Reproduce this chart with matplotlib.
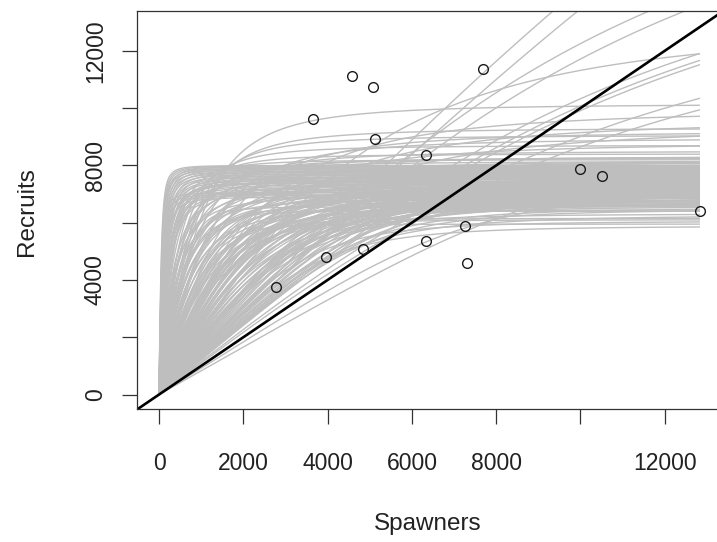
import numpy as np
import matplotlib
matplotlib.use("Agg")
import matplotlib.pyplot as plt

# observed stock-recruit points
spawners = [2776, 3646, 4572, 5085, 5125, 3962, 4847, 6335, 6335, 7260, 7300, 7695, 9988, 10500, 12835]
recruits = [3760, 9630, 11120, 10750, 8930, 4810, 5070, 8350, 5350, 5885, 4580, 11350, 7875, 7640, 6410]

# posterior stock-recruit curves, grouped: initial slope and capacity for each draw
steep_slope = [120, 105, 95, 88, 82, 76, 71, 66, 62, 58, 55, 52, 49, 46, 44, 42, 40, 38, 36, 34,
               32, 30, 29, 28, 27, 26, 25, 24, 23, 22, 100, 80, 64, 50, 35]
steep_cap = [8000, 7980, 7950, 7900, 7850, 7960, 7800, 7920, 7750, 7880, 7700, 7820, 7650, 7600, 7780, 7550,
             7500, 7720, 7450, 7400, 7680, 7350, 7300, 7620, 7250, 7200, 7580, 7150, 7100, 7520, 7050, 7000,
             6950, 6900, 7420]

mid_slope = [19, 18, 17, 16.2, 15.5, 14.8, 14.1, 13.5, 12.9, 12.3, 11.8, 11.3, 10.8, 10.4, 10.0, 9.6, 9.2,
             8.9, 8.6, 8.3, 8.0, 7.7, 7.4, 7.15, 6.9, 6.65, 6.4, 6.2, 6.0, 5.8, 5.6, 5.45, 5.3, 5.15, 5.0,
             4.85, 4.7, 4.55, 4.4, 4.25, 4.1, 3.95]
mid_cap = [8150, 7400, 7700, 7000, 7600, 7300, 8300, 6900, 7500, 7150, 8050, 6800, 7350, 7650, 7050, 7450,
           6950, 8200, 7200, 7550, 6750, 7400, 7100, 8100, 6850, 7250, 7800, 6700, 7500, 7000, 8250, 7150,
           7350, 6900, 7700, 7050, 8000, 6800, 7450, 7250, 7600, 6950]

lower_slope = [3.85, 3.78, 3.7, 3.62, 3.55, 3.48, 3.4, 3.33, 3.26, 3.19, 3.12, 3.05, 2.98, 2.92, 2.86, 2.8,
               2.74, 2.68, 2.62, 2.56, 2.5, 2.45, 2.4, 2.35, 2.3, 2.25, 2.2, 2.16, 2.12, 2.08, 2.04, 2.0,
               1.96, 1.92]
lower_cap = [7300, 7600, 7000, 8200, 7450, 6900, 7750, 7200, 7500, 6800, 7350, 7050, 7650, 6950, 7250, 8000,
             7550, 6850, 7400, 7100, 7700, 6750, 7300, 7850, 7000, 7450, 6900, 7200, 7600, 6800, 7350, 7050,
             7500, 6950]

low_slope = [1.88, 1.84, 1.8, 1.76, 1.72, 1.68, 1.64, 1.6, 1.57, 1.54, 1.51, 1.48, 1.45, 1.42, 1.39, 1.36,
             1.33, 1.3, 1.28, 1.26, 1.24, 1.22]
low_cap = [6750, 7450, 7100, 6650, 7350, 6950, 7250, 6600, 7050, 6800, 7500, 6550, 7150, 6900, 7300, 6700,
           7000, 6500, 7200, 6850, 6450, 7050]

band_slope = [2.6, 1.9, 3.3, 1.6, 4.5, 1.45, 6.0, 2.2, 1.35, 8.0, 2.9]
band_cap = [6450, 6300, 6150, 6050, 5950, 5880, 6400, 6600, 6250, 6550, 6100]

high_slope = [7.8, 9.0, 10, 6.0, 12, 5.0, 8.0, 4.0, 14, 6.5, 3.0, 3.5, 2.5, 18, 10.5, 4.5]
high_cap = [10150, 9300, 9050, 8950, 8700, 9200, 8500, 8800, 8400, 8320, 9600, 9950, 9400, 8200, 8250, 8150]

linear_slope = [1.52, 1.43, 1.55, 1.445, 2.3, 1.3, 1.25, 1.22, 1.15, 1.1]
linear_cap = [40000, 40000, 20000, 20000, 13000, 17000, 17000, 17000, 14500, 14000]

under_slope = [0.83, 0.92]
under_cap = [8500, 7200]

# curve sharpness for each group
groups = [
    (steep_slope, steep_cap, 1.8),
    (mid_slope, mid_cap, 1.6),
    (lower_slope, lower_cap, 2.2),
    (low_slope, low_cap, 4.0),
    (band_slope, band_cap, 3.5),
    (high_slope, high_cap, 2.0),
    (linear_slope, linear_cap, 2.0),
    (under_slope, under_cap, 4.0),
]

s_max = max(spawners)

fig = plt.figure(figsize=(7.17, 5.42), dpi=100)
W, H = 717, 542
left_px, right_px, top_px, bottom_px = 137.4, 721.6, 10.7, 409.3
ax = fig.add_axes([left_px / W, 1 - bottom_px / H, (right_px - left_px) / W, (bottom_px - top_px) / H])

S = np.linspace(0, s_max, 700)
for slopes, caps, c in groups:
    for a, K in zip(slopes, caps):
        u = a * S
        R = u / (1 + (u / K) ** c) ** (1 / c)
        ax.plot(S, R, color='#bebebe', lw=1.0, solid_capstyle='butt', zorder=1)

ax.axline((0, 0), slope=1, color='black', lw=1.9, zorder=2)
ax.plot(spawners, recruits, 'o', mfc='none', mec='#1a1a1a', mew=1.0, ms=7.0, zorder=3)

ax.set_xlim(-513, 13348)
ax.set_ylim(-515, 13400)

xt = [0, 2000, 4000, 6000, 8000, 10000, 12000]
xl = ['0', '2000', '4000', '6000', '8000', '', '12000']
yt = [0, 2000, 4000, 6000, 8000, 10000, 12000]
yl = ['0', '', '4000', '', '8000', '', '12000']

font = 'Liberation Sans'
ax.set_xticks(xt)
ax.set_xticklabels(xl, fontsize=16.5, family=font, color='#222222')
ax.set_yticks(yt)
ax.set_yticklabels(yl, fontsize=16.5, family=font, color='#222222', rotation=90, va='center')
ax.tick_params(axis='both', direction='out', length=11, width=0.9, color='#333333')
ax.tick_params(axis='x', pad=20)
ax.tick_params(axis='y', pad=11)

for side in ['left', 'bottom', 'top', 'right']:
    ax.spines[side].set_linewidth(0.9)
    ax.spines[side].set_color('#333333')

ax.set_xlabel('Spawners', fontsize=17.5, family=font, color='#222222')
ax.set_ylabel('Recruits', fontsize=17.5, family=font, color='#222222')
ax.xaxis.label.set_va('center')
ax.yaxis.label.set_va('center')
ax.xaxis.set_label_coords((428 - left_px) / (right_px - left_px), -(524 - bottom_px) / (bottom_px - top_px))
ax.yaxis.set_label_coords(-(left_px - 27) / (right_px - left_px), (bottom_px - 212) / (bottom_px - top_px))

fig.savefig('out.png', dpi=100)
